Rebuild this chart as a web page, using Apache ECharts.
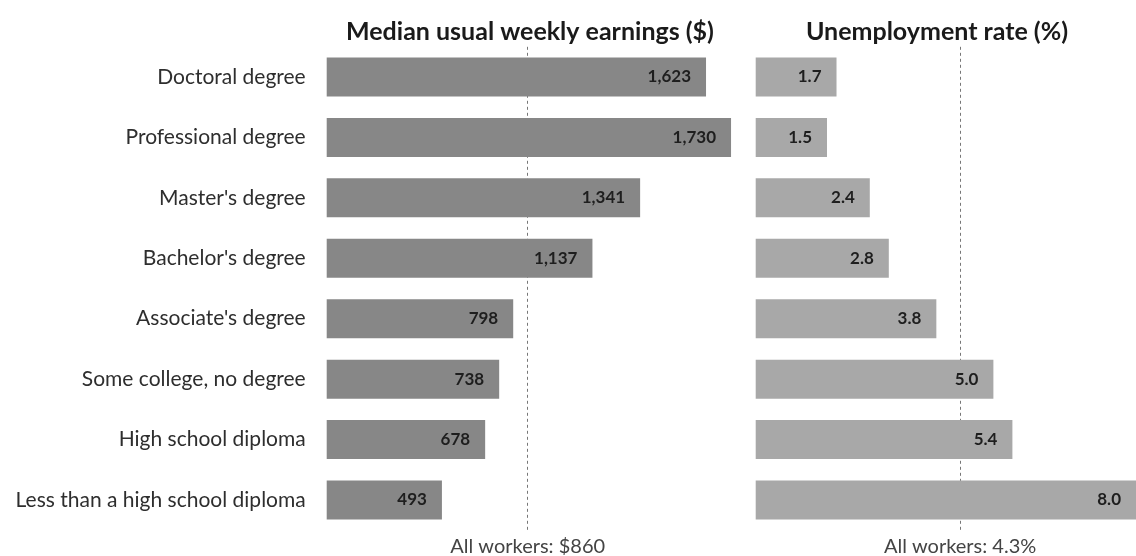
<!DOCTYPE html>
<html><head><meta charset="utf-8">
<script src="https://cdn.jsdelivr.net/npm/echarts@6/dist/echarts.min.js"></script>
<style>html,body{margin:0;padding:0;background:#fff}#c{width:1136px;height:556px}</style>
</head><body><div id="c"></div>
<script>
const categories = ["Doctoral degree","Professional degree","Master's degree","Bachelor's degree","Associate's degree","Some college, no degree","High school diploma","Less than a high school diploma"];
const earnings = [1623,1730,1341,1137,798,738,678,493];
const unemployment = [1.7,1.5,2.4,2.8,3.8,5.0,5.4,8.0];
const allWorkersEarnings = 860;
const allWorkersUnemp = 4.3;
const titles = ["Median usual weekly earnings ($)","Unemployment rate (%)"];

const FONT = "Lato";
const chart = echarts.init(document.getElementById('c'));
const catAxis = (gi, show) => ({
  type:'category', gridIndex:gi, data:categories, inverse:true,
  axisLine:{show:false}, axisTick:{show:false},
  axisLabel:{show:show, fontFamily:FONT, fontSize:21, color:'#2e2e2e', margin:21}
});
const valAxis = (gi, max) => ({type:'value', gridIndex:gi, min:0, max:max, show:false, splitLine:{show:false}});
const barSeries = (gi, data, color, fmt) => ({
  type:'bar', xAxisIndex:gi, yAxisIndex:gi, data:data, barWidth:39, z:3,
  itemStyle:{color:color},
  label:{show:true, position:'insideRight', distance:15, fontFamily:FONT, fontWeight:'bold', fontSize:17, color:'#1e1e1e', formatter:fmt}
});
const refSeries = (gi, val, text) => ({
  type:'line', xAxisIndex:gi, yAxisIndex:gi, data:[], z:1, silent:true,
  markLine:{symbol:'none', silent:true, animation:false, z:1,
    lineStyle:{type:[3,3], color:'#777', width:1},
    label:{show:true, position:'end', distance:6, formatter:text, fontFamily:FONT, fontSize:20, color:'#444'},
    data:[{xAxis:val}]}
});
chart.setOption({
  animation:false,
  title:[
    {text:titles[0], left:525, top:14, textAlign:'center', textStyle:{fontFamily:FONT, fontWeight:'bold', fontSize:25, color:'#1a1a1a'}},
    {text:titles[1], left:932, top:14, textAlign:'center', textStyle:{fontFamily:FONT, fontWeight:'bold', fontSize:25, color:'#1a1a1a'}}
  ],
  grid:[
    {left:326.7, top:46.8, width:420.7, height:483.4},
    {left:755.7, top:46.8, right:-13, height:483.4}
  ],
  xAxis:[valAxis(0,1800), valAxis(1,8)],
  yAxis:[catAxis(0,true), catAxis(1,false)],
  series:[
    refSeries(0, allWorkersEarnings, 'All workers: $' + allWorkersEarnings),
    refSeries(1, allWorkersUnemp, 'All workers: ' + allWorkersUnemp.toFixed(1) + '%'),
    barSeries(0, earnings, '#878787', p => p.value.toLocaleString('en-US')),
    barSeries(1, unemployment, '#a8a8a8', p => p.value.toFixed(1))
  ]
});
</script></body></html>
